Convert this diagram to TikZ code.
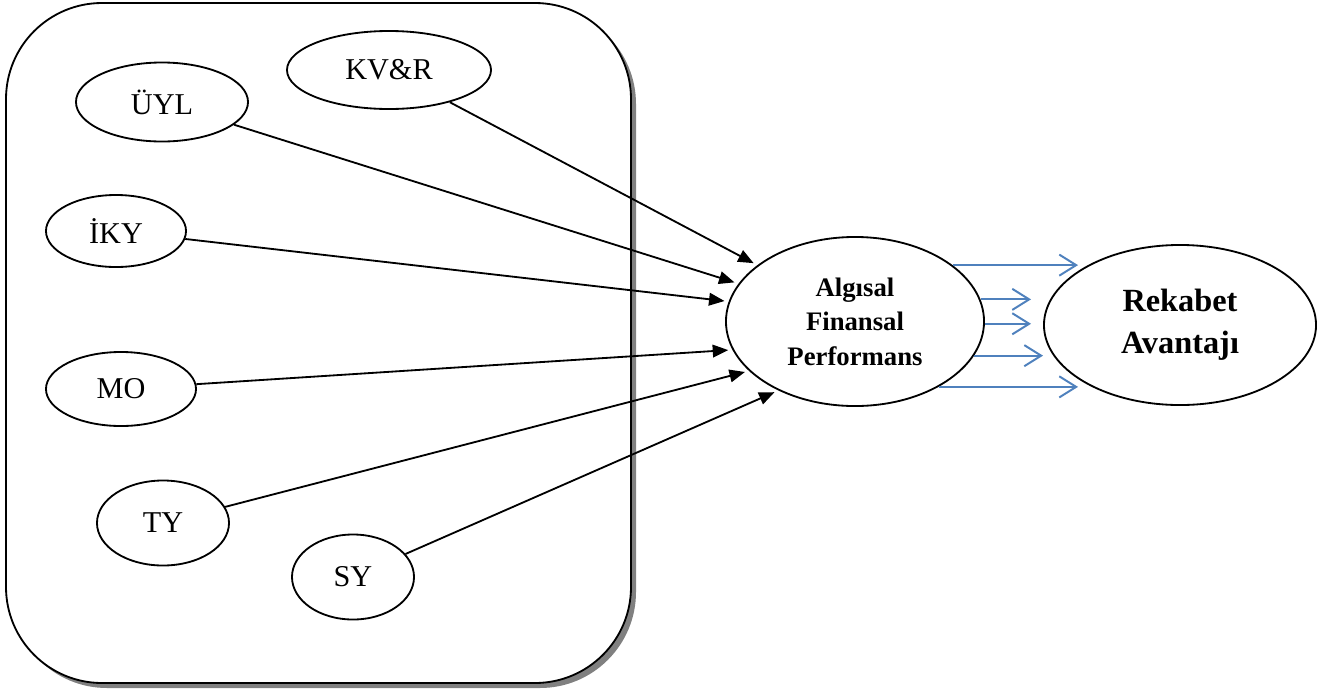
\documentclass[tikz,border=0pt]{standalone}
\usepackage{xcolor}
\usepackage{fontspec}
\setmainfont{Liberation Serif}
\usetikzlibrary{arrows.meta,shapes.geometric}
\definecolor{arrowblue}{HTML}{4F81BD}
\tikzset{
  oval/.style={draw,ellipse,line width=1.3pt,inner sep=0pt,fill=white},
  factor/.style={oval,font=\fontsize{21.5}{24}\selectfont},
  link/.style={line width=1.3pt,-{Triangle[length=11pt,width=9pt]},shorten >=3pt},
  flow/.style={arrowblue,line width=1.4pt,-{Straight Barb[length=12pt,width=15pt]}}
}

\begin{document}
\begin{tikzpicture}[x=0.025cm,y=-0.025cm]
  \useasboundingbox (0,0) rectangle (1327,692);
  % frame with shadow
  \fill[black!50,rounded corners=2.4cm] (11,8) rectangle (636,688);
  \draw[line width=1.3pt,fill=white,rounded corners=2.4cm] (6,3) rectangle (631,683);

  \node[factor,minimum width=5.1cm,minimum height=1.95cm] (kvr) at (389,70) {KV\&R};
  \node[factor,minimum width=4.3cm,minimum height=1.975cm] (uyl) at (162,102) {ÜYL};
  \node[factor,minimum width=3.5cm,minimum height=1.8cm] (iky) at (116,231) {İKY};
  \node[factor,minimum width=3.75cm,minimum height=1.85cm] (mo) at (121,389) {MO};
  \node[factor,minimum width=3.3cm,minimum height=2.125cm] (ty) at (163,523) {TY};
  \node[factor,minimum width=3.05cm,minimum height=2.125cm] (sy) at (353,577) {SY};

  \node[oval,minimum width=6.45cm,minimum height=4.225cm,align=center,
        font=\bfseries\fontsize{19}{24.5}\selectfont] (afp) at (855,321.5) {Algısal\\Finansal\\Performans};
  \node[oval,minimum width=6.8cm,minimum height=4cm,align=center,
        font=\bfseries\fontsize{23}{30}\selectfont] (ra) at (1180,325) {Rekabet\\Avantajı};

  \draw[link] (kvr) -- (afp.150);
  \draw[link] (uyl) -- (afp.162);
  \draw[link] (iky) -- (afp.171);
  \draw[link] (mo) -- (afp.193);
  \draw[link] (ty) -- (afp.205);
  \draw[link] (sy) -- (afp.222);

  % blue arrows towards Rekabet Avantaji
  \coordinate (tipa) at (1078,0);
  \coordinate (tipb) at (1031,0);
  \coordinate (tipc) at (1043,0);
  \draw[flow] (afp.30) -- (afp.30 -| tipa);
  \draw[flow] (afp.10) -- (afp.10 -| tipb);
  \draw[flow] (afp.359) -- (afp.359 -| tipb);
  \draw[flow] (afp.344) -- (afp.344 -| tipc);
  \draw[flow] (afp.322) -- (afp.322 -| tipa);
\end{tikzpicture}
\end{document}
